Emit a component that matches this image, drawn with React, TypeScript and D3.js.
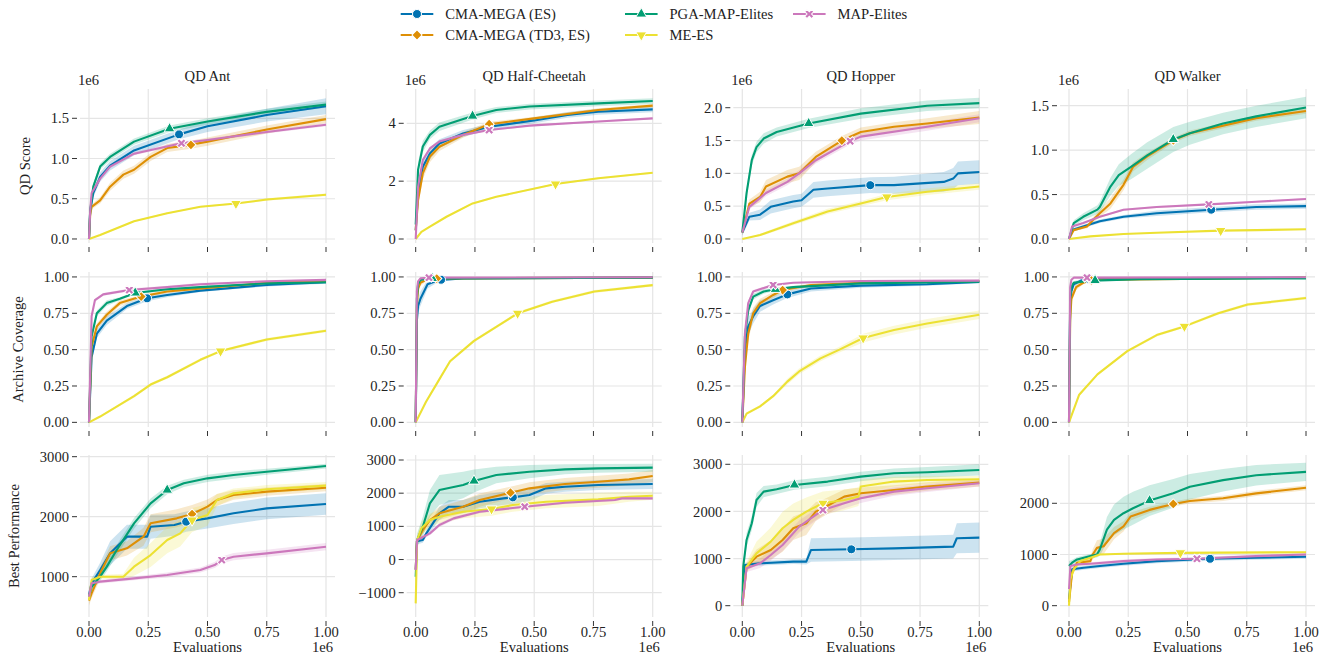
import React from "react";
import * as d3 from "d3";

// each point: [evaluations (x1e6), mean, half width of the shaded band]
type Pt = [number, number, number];

const ENVS = ["QD Ant", "QD Half-Cheetah", "QD Hopper", "QD Walker"];
const METRICS = ["QD Score", "Archive Coverage", "Best Performance"];
const ALGOS = ["CMA-MEGA (ES)", "CMA-MEGA (TD3, ES)", "PGA-MAP-Elites", "ME-ES", "MAP-Elites"];
const COLORS = ["#0173b2", "#de8f05", "#029e73", "#ece133", "#cc78bc"];
const SHAPES = ["circle", "diamond", "triangle", "triangleDown", "x"];
const X_TICKS = [0, 0.25, 0.5, 0.75, 1];

// ---- QD Score (x1e6) ----
const ANT_SCORE: Pt[][] = [
  [[0,0,0],[0.005,0.35,0.03],[0.018,0.57,0.05],[0.047,0.77,0.06],[0.089,0.91,0.06],[0.19,1.1,0.06],[0.38,1.3,0.06],[0.5,1.4,0.07],[0.75,1.54,0.08],[1,1.65,0.1]],
  [[0,0,0],[0.005,0.3,0.02],[0.011,0.4,0.03],[0.047,0.48,0.04],[0.089,0.65,0.05],[0.145,0.8,0.05],[0.19,0.86,0.05],[0.26,1.02,0.05],[0.33,1.13,0.05],[0.43,1.17,0.05],[0.5,1.21,0.05],[0.75,1.36,0.05],[1,1.49,0.05]],
  [[0,0,0],[0.005,0.35,0.03],[0.018,0.65,0.04],[0.047,0.9,0.04],[0.089,1.02,0.04],[0.19,1.21,0.04],[0.34,1.37,0.04],[0.5,1.46,0.04],[0.75,1.58,0.04],[1,1.67,0.04]],
  [[0,0,0],[0.047,0.05,0.01],[0.19,0.22,0.01],[0.33,0.32,0.01],[0.47,0.4,0.01],[0.62,0.44,0.01],[0.75,0.49,0.015],[1,0.55,0.015]],
  [[0,0,0],[0.005,0.35,0.02],[0.011,0.57,0.02],[0.047,0.75,0.02],[0.089,0.9,0.02],[0.19,1.06,0.02],[0.39,1.19,0.02],[0.5,1.23,0.02],[0.75,1.33,0.02],[1,1.42,0.02]],
];
const ANT_SCORE_MK = [0.38, 0.43, 0.34, 0.62, 0.39];

const HC_SCORE: Pt[][] = [
  [[0,0.3,0.1],[0.01,1.6,0.2],[0.03,2.5,0.2],[0.06,2.96,0.2],[0.1,3.3,0.15],[0.2,3.65,0.12],[0.31,3.88,0.1],[0.5,4.1,0.1],[0.64,4.29,0.1],[0.77,4.4,0.1],[1,4.48,0.1]],
  [[0,0.3,0.1],[0.01,1.35,0.2],[0.03,2.27,0.2],[0.06,2.85,0.2],[0.1,3.19,0.15],[0.2,3.6,0.1],[0.31,3.97,0.08],[0.5,4.17,0.06],[0.77,4.46,0.06],[1,4.61,0.06]],
  [[0,0.5,0.1],[0.01,2.4,0.25],[0.03,3.2,0.2],[0.06,3.6,0.15],[0.1,3.88,0.15],[0.24,4.25,0.12],[0.34,4.46,0.1],[0.48,4.58,0.1],[0.77,4.69,0.1],[1,4.77,0.1]],
  [[0,0,0],[0.024,0.25,0.02],[0.06,0.43,0.02],[0.13,0.77,0.03],[0.24,1.23,0.03],[0.34,1.46,0.03],[0.59,1.9,0.03],[0.77,2.1,0.03],[1,2.29,0.03]],
  [[0,0,0],[0.01,1.8,0.1],[0.03,2.73,0.08],[0.06,3.13,0.06],[0.1,3.37,0.05],[0.2,3.6,0.04],[0.31,3.77,0.04],[0.48,3.92,0.03],[0.77,4.06,0.03],[1,4.17,0.03]],
];
const HC_SCORE_MK = [0.31, 0.31, 0.24, 0.59, 0.31];

const HOP_SCORE: Pt[][] = [
  [[0,0.1,0.05],[0.03,0.34,0.06],[0.075,0.37,0.08],[0.12,0.49,0.1],[0.215,0.57,0.1],[0.25,0.59,0.1],[0.3,0.75,0.12],[0.36,0.77,0.12],[0.54,0.82,0.12],[0.64,0.82,0.13],[0.85,0.87,0.15],[0.89,0.92,0.16],[0.91,1.0,0.18],[1,1.02,0.18]],
  [[0,0.1,0.05],[0.03,0.54,0.06],[0.075,0.64,0.08],[0.1,0.8,0.1],[0.19,0.95,0.1],[0.24,1.0,0.1],[0.31,1.25,0.08],[0.42,1.5,0.07],[0.5,1.63,0.07],[0.64,1.71,0.07],[0.78,1.76,0.08],[1,1.85,0.1]],
  [[0,0.1,0.05],[0.018,0.7,0.08],[0.04,1.2,0.08],[0.06,1.4,0.08],[0.09,1.53,0.08],[0.145,1.63,0.07],[0.28,1.76,0.07],[0.5,1.91,0.08],[0.78,2.03,0.08],[1,2.07,0.08]],
  [[0,0,0],[0.075,0.06,0.02],[0.215,0.24,0.03],[0.36,0.42,0.04],[0.5,0.54,0.04],[0.61,0.64,0.05],[0.78,0.72,0.05],[1,0.8,0.05]],
  [[0,0.1,0.03],[0.03,0.49,0.04],[0.1,0.7,0.05],[0.19,0.87,0.05],[0.24,1.0,0.05],[0.31,1.2,0.05],[0.455,1.49,0.05],[0.5,1.56,0.06],[0.78,1.71,0.06],[1,1.84,0.06]],
];
const HOP_SCORE_MK = [0.54, 0.42, 0.28, 0.61, 0.455];

const WALK_SCORE: Pt[][] = [
  [[0,0,0],[0.013,0.1,0.02],[0.06,0.14,0.02],[0.13,0.2,0.02],[0.23,0.25,0.02],[0.37,0.29,0.03],[0.6,0.33,0.03],[0.79,0.36,0.03],[1,0.37,0.03]],
  [[0,0,0],[0.02,0.1,0.01],[0.076,0.14,0.02],[0.1,0.21,0.03],[0.13,0.29,0.04],[0.175,0.4,0.06],[0.23,0.61,0.06],[0.27,0.81,0.05],[0.33,0.93,0.04],[0.44,1.11,0.03],[0.51,1.19,0.03],[0.79,1.36,0.03],[1,1.44,0.03]],
  [[0,0,0],[0.02,0.18,0.03],[0.06,0.25,0.04],[0.12,0.33,0.05],[0.13,0.36,0.06],[0.175,0.59,0.1],[0.21,0.72,0.12],[0.26,0.81,0.14],[0.33,0.94,0.15],[0.44,1.12,0.14],[0.51,1.19,0.13],[0.65,1.3,0.12],[0.79,1.38,0.12],[1,1.48,0.12]],
  [[0,0,0],[0.09,0.03,0.005],[0.23,0.056,0.005],[0.37,0.07,0.005],[0.64,0.094,0.005],[0.79,0.1,0.005],[1,0.11,0.005]],
  [[0,0,0],[0.013,0.14,0.01],[0.06,0.18,0.01],[0.13,0.25,0.01],[0.23,0.33,0.01],[0.37,0.36,0.01],[0.59,0.39,0.01],[0.79,0.42,0.01],[1,0.45,0.01]],
];
const WALK_SCORE_MK = [0.6, 0.44, 0.44, 0.64, 0.59];

// ---- Archive Coverage ----
const ANT_COV: Pt[][] = [
  [[0,0,0],[0.011,0.45,0.03],[0.033,0.61,0.03],[0.075,0.7,0.03],[0.16,0.8,0.02],[0.245,0.853,0.02],[0.33,0.876,0.015],[0.47,0.906,0.01],[0.75,0.945,0.01],[1,0.963,0.01]],
  [[0,0,0],[0.011,0.52,0.02],[0.033,0.66,0.02],[0.075,0.74,0.02],[0.13,0.82,0.02],[0.22,0.865,0.01],[0.33,0.9,0.01],[0.75,0.96,0.005],[1,0.975,0.005]],
  [[0,0,0],[0.011,0.59,0.02],[0.033,0.75,0.02],[0.075,0.82,0.02],[0.13,0.85,0.01],[0.195,0.89,0.01],[0.33,0.915,0.01],[0.47,0.93,0.01],[0.75,0.956,0.005],[1,0.963,0.005]],
  [[0,0,0],[0.047,0.04,0.005],[0.19,0.18,0.01],[0.26,0.26,0.01],[0.33,0.31,0.01],[0.47,0.43,0.01],[0.555,0.49,0.01],[0.75,0.57,0.01],[1,0.63,0.01]],
  [[0,0,0],[0.011,0.73,0.01],[0.025,0.84,0.01],[0.06,0.88,0.01],[0.17,0.91,0.01],[0.33,0.93,0.01],[0.47,0.95,0.01],[0.75,0.97,0.005],[1,0.98,0.005]],
];
const ANT_COV_MK = [0.245, 0.22, 0.195, 0.555, 0.17];

const HC_COV: Pt[][] = [
  [[0,0,0],[0.005,0.7,0.05],[0.01,0.8,0.05],[0.02,0.85,0.05],[0.05,0.95,0.03],[0.1,0.98,0.01],[0.2,0.99,0.005],[1,0.995,0.002]],
  [[0,0,0],[0.005,0.8,0.04],[0.01,0.92,0.03],[0.02,0.96,0.02],[0.05,0.985,0.01],[0.1,0.99,0.005],[1,0.995,0.002]],
  [[0,0,0],[0.005,0.85,0.03],[0.01,0.95,0.02],[0.02,0.98,0.01],[0.05,0.99,0.005],[1,0.995,0.002]],
  [[0,0,0],[0.043,0.14,0.01],[0.094,0.28,0.01],[0.145,0.42,0.01],[0.246,0.56,0.01],[0.35,0.667,0.01],[0.43,0.75,0.01],[0.576,0.83,0.01],[0.754,0.9,0.01],[1,0.944,0.01]],
  [[0,0,0],[0.005,0.9,0.02],[0.01,0.97,0.01],[0.02,0.99,0.005],[0.05,0.995,0.002],[1,0.998,0.002]],
];
const HC_COV_MK = [0.107, 0.089, 0.07, 0.43, 0.056];

const HOP_COV: Pt[][] = [
  [[0,0,0],[0.011,0.5,0.06],[0.025,0.66,0.06],[0.046,0.73,0.05],[0.075,0.8,0.04],[0.13,0.84,0.03],[0.19,0.88,0.025],[0.29,0.92,0.02],[0.5,0.94,0.015],[0.78,0.95,0.01],[1,0.966,0.01]],
  [[0,0,0],[0.011,0.38,0.05],[0.025,0.61,0.05],[0.046,0.75,0.04],[0.075,0.82,0.03],[0.13,0.876,0.02],[0.17,0.91,0.015],[0.29,0.945,0.01],[0.5,0.96,0.005],[1,0.972,0.005]],
  [[0,0,0],[0.011,0.59,0.03],[0.025,0.77,0.03],[0.046,0.865,0.02],[0.09,0.9,0.015],[0.14,0.915,0.01],[0.215,0.93,0.01],[0.5,0.956,0.005],[1,0.968,0.005]],
  [[0,0,0],[0.018,0.06,0.01],[0.075,0.11,0.01],[0.13,0.18,0.01],[0.19,0.28,0.02],[0.24,0.35,0.02],[0.33,0.44,0.02],[0.41,0.5,0.02],[0.51,0.58,0.03],[0.64,0.635,0.03],[0.78,0.68,0.03],[1,0.74,0.03]],
  [[0,0,0],[0.011,0.61,0.03],[0.025,0.82,0.02],[0.046,0.9,0.01],[0.13,0.945,0.01],[0.215,0.96,0.005],[0.5,0.972,0.005],[1,0.975,0.005]],
];
const HOP_COV_MK = [0.19, 0.17, 0.14, 0.51, 0.13];

const WALK_COV: Pt[][] = [
  [[0,0,0],[0.005,0.8,0.04],[0.01,0.9,0.03],[0.02,0.95,0.02],[0.05,0.975,0.01],[0.1,0.99,0.005],[1,0.995,0.002]],
  [[0,0,0],[0.005,0.7,0.04],[0.01,0.85,0.03],[0.03,0.93,0.02],[0.06,0.96,0.01],[0.1,0.98,0.005],[1,0.995,0.002]],
  [[0,0,0],[0.005,0.85,0.03],[0.01,0.93,0.02],[0.02,0.96,0.01],[0.1,0.975,0.005],[0.3,0.985,0.003],[1,0.99,0.002]],
  [[0,0,0],[0.043,0.19,0.01],[0.12,0.33,0.01],[0.246,0.49,0.01],[0.37,0.6,0.01],[0.487,0.66,0.01],[0.63,0.75,0.01],[0.754,0.81,0.01],[1,0.855,0.01]],
  [[0,0,0],[0.005,0.93,0.02],[0.01,0.98,0.01],[0.02,0.995,0.003],[1,0.998,0.002]],
];
const WALK_COV_MK = [0.086, 0.094, 0.11, 0.487, 0.076];

// ---- Best Performance ----
const ANT_BEST: Pt[][] = [
  [[0,700,100],[0.011,889,80],[0.047,1111,120],[0.089,1389,200],[0.16,1667,200],[0.245,1667,200],[0.26,1833,200],[0.36,1861,180],[0.41,1917,170],[0.5,1972,170],[0.61,2056,180],[0.75,2139,180],[1,2211,180]],
  [[0,600,80],[0.011,722,80],[0.047,1056,100],[0.089,1389,120],[0.16,1472,120],[0.23,1667,150],[0.26,1889,150],[0.37,1972,150],[0.435,2044,150],[0.5,2167,120],[0.54,2278,100],[0.61,2361,80],[0.75,2417,70],[1,2483,60]],
  [[0,667,80],[0.011,833,60],[0.047,1000,70],[0.075,1167,80],[0.117,1444,90],[0.19,1889,90],[0.26,2222,80],[0.33,2444,70],[0.4,2556,60],[0.5,2639,60],[0.61,2694,60],[0.75,2750,50],[1,2844,40]],
  [[0,611,50],[0.011,944,50],[0.047,1000,30],[0.145,1000,50],[0.19,1167,150],[0.26,1361,200],[0.33,1611,220],[0.385,1722,220],[0.435,1944,200],[0.5,2028,180],[0.54,2278,100],[0.61,2389,80],[0.75,2456,70],[1,2517,60]],
  [[0,667,50],[0.011,889,30],[0.047,917,30],[0.19,972,30],[0.33,1028,40],[0.47,1111,40],[0.53,1194,50],[0.56,1278,60],[0.61,1333,60],[0.75,1389,60],[1,1500,60]],
];
const ANT_BEST_MK = [0.41, 0.435, 0.33, 0.435, 0.56];

const HC_BEST: Pt[][] = [
  [[0,-300,400],[0.005,550,100],[0.03,588,80],[0.045,789,100],[0.1,1392,200],[0.14,1593,200],[0.2,1593,200],[0.27,1744,200],[0.37,1844,200],[0.41,1874,200],[0.48,1945,180],[0.55,2146,160],[0.63,2196,150],[0.77,2246,150],[1,2276,150]],
  [[0,-300,400],[0.005,550,100],[0.03,889,120],[0.06,1190,150],[0.1,1392,200],[0.2,1593,200],[0.27,1794,200],[0.4,2015,180],[0.48,2146,180],[0.63,2276,180],[0.77,2347,180],[0.9,2417,180],[1,2518,180]],
  [[0,-518,700],[0.006,588,200],[0.03,990,300],[0.06,1693,400],[0.1,2095,450],[0.2,2246,400],[0.246,2367,350],[0.34,2548,250],[0.48,2648,200],[0.63,2719,150],[0.77,2749,130],[1,2769,120]],
  [[0,-1322,100],[0.006,588,150],[0.024,940,200],[0.06,1191,200],[0.1,1291,200],[0.2,1442,200],[0.32,1523,200],[0.41,1643,200],[0.55,1744,200],[0.77,1814,200],[0.9,1894,150],[1,1925,120]],
  [[0,-317,300],[0.006,588,60],[0.06,789,60],[0.1,1040,60],[0.16,1241,60],[0.27,1442,50],[0.46,1593,40],[0.63,1714,40],[0.84,1794,40],[0.87,1844,40],[1,1844,40]],
];
const HC_BEST_MK = [0.41, 0.4, 0.246, 0.32, 0.46];

const HOP_BEST: Pt[][] = [
  [[0,0,0],[0.011,863,50],[0.075,899,50],[0.215,934,50],[0.27,934,60],[0.29,1182,250],[0.46,1196,250],[0.64,1217,250],[0.89,1253,250],[0.905,1430,320],[1,1444,320]],
  [[0,0,0],[0.018,828,80],[0.06,1040,150],[0.12,1182,200],[0.17,1394,250],[0.215,1642,250],[0.27,1748,250],[0.31,1996,200],[0.34,2067,180],[0.43,2314,150],[0.5,2385,120],[0.64,2456,100],[0.78,2527,90],[1,2611,80]],
  [[0,0,50],[0.004,828,100],[0.018,1394,150],[0.04,1748,150],[0.06,2243,150],[0.09,2420,120],[0.145,2470,100],[0.22,2562,100],[0.36,2633,100],[0.5,2739,100],[0.64,2810,100],[0.78,2831,110],[1,2880,120]],
  [[0,0,0],[0.018,828,100],[0.06,1111,250],[0.12,1359,300],[0.17,1642,350],[0.215,1819,350],[0.27,1996,300],[0.34,2173,250],[0.43,2243,220],[0.49,2314,200],[0.5,2527,150],[0.64,2633,100],[0.78,2668,80],[1,2682,70]],
  [[0,0,0],[0.018,793,80],[0.075,899,100],[0.12,1076,120],[0.17,1288,130],[0.24,1677,130],[0.34,2031,120],[0.43,2173,110],[0.5,2279,100],[0.64,2420,90],[0.78,2491,80],[1,2597,70]],
];
const HOP_BEST_MK = [0.46, 0.34, 0.22, 0.34, 0.34];

const WALK_BEST: Pt[][] = [
  [[0,129,80],[0.013,710,40],[0.062,742,40],[0.13,774,40],[0.23,819,40],[0.37,871,40],[0.595,916,40],[0.79,935,40],[1,955,40]],
  [[0,65,50],[0.013,645,80],[0.034,839,60],[0.09,871,60],[0.1,1000,100],[0.118,1129,150],[0.146,1161,150],[0.19,1419,120],[0.23,1548,100],[0.26,1742,80],[0.34,1871,60],[0.44,1987,50],[0.51,2045,50],[0.65,2097,50],[0.79,2194,50],[1,2303,50]],
  [[0,774,100],[0.013,839,60],[0.034,903,50],[0.09,968,40],[0.118,1000,60],[0.13,1097,120],[0.16,1484,250],[0.19,1677,300],[0.23,1806,320],[0.27,1903,320],[0.34,2052,300],[0.44,2194,280],[0.51,2323,250],[0.65,2452,220],[0.79,2548,200],[1,2613,180]],
  [[0,0,0],[0.006,516,60],[0.02,710,60],[0.048,871,40],[0.09,935,30],[0.13,1000,20],[0.23,1013,15],[0.47,1032,15],[1,1045,15]],
  [[0,323,100],[0.006,774,40],[0.034,806,30],[0.09,819,30],[0.23,871,30],[0.37,903,30],[0.54,916,30],[0.79,968,30],[1,1000,30]],
];
const WALK_BEST_MK = [0.595, 0.44, 0.34, 0.47, 0.54];

const DATA = [
  [ANT_SCORE, HC_SCORE, HOP_SCORE, WALK_SCORE],
  [ANT_COV, HC_COV, HOP_COV, WALK_COV],
  [ANT_BEST, HC_BEST, HOP_BEST, WALK_BEST],
];
const MARKS = [
  [ANT_SCORE_MK, HC_SCORE_MK, HOP_SCORE_MK, WALK_SCORE_MK],
  [ANT_COV_MK, HC_COV_MK, HOP_COV_MK, WALK_COV_MK],
  [ANT_BEST_MK, HC_BEST_MK, HOP_BEST_MK, WALK_BEST_MK],
];

// y limits and ticks per panel
const Y_LIMS = [
  [[-0.05, 1.864], [-0.138, 5.186], [-0.061, 2.285], [-0.045, 1.688]],
  [[-0.032, 1.034], [-0.032, 1.034], [-0.032, 1.034], [-0.032, 1.034]],
  [[328, 3028], [-1732, 3151], [-240, 3197], [-221, 2943]],
];
const Y_TICKS = [
  [[0, 0.5, 1, 1.5], [0, 2, 4], [0, 0.5, 1, 1.5, 2], [0, 0.5, 1, 1.5]],
  [[0, 0.25, 0.5, 0.75, 1], [0, 0.25, 0.5, 0.75, 1], [0, 0.25, 0.5, 0.75, 1], [0, 0.25, 0.5, 0.75, 1]],
  [[1000, 2000, 3000], [-1000, 0, 1000, 2000, 3000], [0, 1000, 2000, 3000], [0, 1000, 2000]],
];
const Y_FMT = [[".1f", "d", ".1f", ".1f"], [".2f", ".2f", ".2f", ".2f"], ["d", "d", "d", "d"]];

// layout
const W = 1336;
const H = 658;
const COL_X0 = [89, 415.7, 742.3, 1069];
const X_SPAN = 237;
const ROWS = [[89, 243], [272, 427], [455, 617]];
const YLABEL_X = [30, 23, 19];
const FONT = "Liberation Serif, Times New Roman, serif";
const FONT_SIZE = 14.6;
const GRID = "#e5e5e5";
const TICK = "#333";

const symbolPath = (shape: string, size = 60) => {
  switch (shape) {
    case "circle": return d3.symbol(d3.symbolCircle, size + 4)()!;
    case "diamond": return d3.symbol(d3.symbolSquare, size - 8)()!;
    case "triangle":
    case "triangleDown": return d3.symbol(d3.symbolTriangle, size - 10)()!;
    default: return d3.symbol(d3.symbolCross, size - 8)()!;
  }
};
const symbolRot = (shape: string) =>
  shape === "diamond" || shape === "x" ? 45 : shape === "triangleDown" ? 180 : 0;

const interp = (pts: Pt[], xv: number) => {
  const i = Math.max(1, Math.min(pts.length - 1, d3.bisector((d: Pt) => d[0]).left(pts, xv)));
  const a = pts[i - 1], b = pts[i];
  const t = b[0] === a[0] ? 1 : (xv - a[0]) / (b[0] - a[0]);
  return a[1] + (b[1] - a[1]) * t;
};

const Marker = ({ shape, color, x, y }: { shape: string; color: string; x: number; y: number }) => (
  <path
    d={symbolPath(shape)}
    transform={`translate(${x},${y}) rotate(${symbolRot(shape)})`}
    fill={color}
    stroke="#fff"
    strokeWidth={1}
  />
);

const Panel = ({ row, col }: { row: number; col: number }) => {
  const x0 = COL_X0[col];
  const left = x0 - 9;
  const right = x0 + X_SPAN + 9;
  const [top, bottom] = ROWS[row];
  const x = d3.scaleLinear().domain([0, 1]).range([x0, x0 + X_SPAN]);
  const y = d3.scaleLinear().domain(Y_LIMS[row][col]).range([bottom, top]);
  const fmt = d3.format(Y_FMT[row][col]);
  const series = DATA[row][col];
  const marks = MARKS[row][col];
  const clipId = `clip-${row}-${col}`;

  const line = d3.line<Pt>().x((d) => x(d[0])).y((d) => y(d[1]));
  const band = d3
    .area<Pt>()
    .x((d) => x(d[0]))
    .y0((d) => y(d[1] - d[2]))
    .y1((d) => y(d[1] + d[2]));

  return (
    <g>
      <defs>
        <clipPath id={clipId}>
          <rect x={left} y={top} width={right - left} height={bottom - top} />
        </clipPath>
      </defs>
      {/* grid */}
      {X_TICKS.map((t) => (
        <line key={`gx${t}`} x1={x(t)} x2={x(t)} y1={top} y2={bottom} stroke={GRID} strokeWidth={1.2} />
      ))}
      {Y_TICKS[row][col].map((t) => (
        <line key={`gy${t}`} x1={left} x2={right} y1={y(t)} y2={y(t)} stroke={GRID} strokeWidth={1.2} />
      ))}
      {/* ticks */}
      {X_TICKS.map((t) => (
        <line key={`tx${t}`} x1={x(t)} x2={x(t)} y1={bottom + 4} y2={bottom + 9} stroke={TICK} strokeWidth={1} />
      ))}
      {Y_TICKS[row][col].map((t) => (
        <g key={`ty${t}`}>
          <line x1={left - 8} x2={left - 3} y1={y(t)} y2={y(t)} stroke={TICK} strokeWidth={1} />
          <text x={left - 11} y={y(t)} dy="0.35em" textAnchor="end">
            {fmt(t)}
          </text>
        </g>
      ))}
      {row === 2 &&
        X_TICKS.map((t) => (
          <text key={`lx${t}`} x={x(t)} y={bottom + 20} textAnchor="middle">
            {d3.format(".2f")(t)}
          </text>
        ))}
      {row === 2 && (
        <>
          <text x={(left + right) / 2} y={652} textAnchor="middle">Evaluations</text>
          <text x={right - 2} y={652} textAnchor="end">1e6</text>
        </>
      )}
      {row === 0 && (
        <>
          <text x={(left + right) / 2} y={81} textAnchor="middle">{ENVS[col]}</text>
          <text x={left - 2} y={85}>1e6</text>
        </>
      )}
      {col === 0 && (
        <text
          transform={`translate(${YLABEL_X[row]},${(top + bottom) / 2}) rotate(-90)`}
          textAnchor="middle"
        >
          {METRICS[row]}
        </text>
      )}
      {/* data */}
      <g clipPath={`url(#${clipId})`}>
        {series.map((s, i) => (
          <path key={`b${i}`} d={band(s)!} fill={COLORS[i]} fillOpacity={0.2} stroke="none" />
        ))}
        {series.map((s, i) => (
          <path key={`l${i}`} d={line(s)!} fill="none" stroke={COLORS[i]} strokeWidth={2.1} strokeLinejoin="round" />
        ))}
        {series.map((s, i) => (
          <Marker key={`m${i}`} shape={SHAPES[i]} color={COLORS[i]} x={x(marks[i])} y={y(interp(s, marks[i]))} />
        ))}
      </g>
    </g>
  );
};

const LEGEND_COLS = [400.7, 625, 793];
const LEGEND_ROWS = [14, 35];

const Legend = () => (
  <g>
    {ALGOS.map((name, i) => {
      const lx = LEGEND_COLS[Math.floor(i / 2)];
      const ly = LEGEND_ROWS[i % 2];
      return (
        <g key={name}>
          <line x1={lx} x2={lx + 32.6} y1={ly} y2={ly} stroke={COLORS[i]} strokeWidth={2.1} />
          <Marker shape={SHAPES[i]} color={COLORS[i]} x={lx + 16.3} y={ly} />
          <text x={lx + 44.5} y={ly + 5}>{name}</text>
        </g>
      );
    })}
  </g>
);

export default function App() {
  return (
    <svg
      width={W}
      height={H}
      style={{
        position: "absolute",
        left: 0,
        top: 0,
        background: "#fff",
        fontFamily: FONT,
        fontSize: FONT_SIZE,
        fill: "#222",
      }}
    >
      <rect width={W} height={H} fill="#fff" />
      <Legend />
      {METRICS.map((_, r) => ENVS.map((__, c) => <Panel key={`${r}-${c}`} row={r} col={c} />))}
    </svg>
  );
}
